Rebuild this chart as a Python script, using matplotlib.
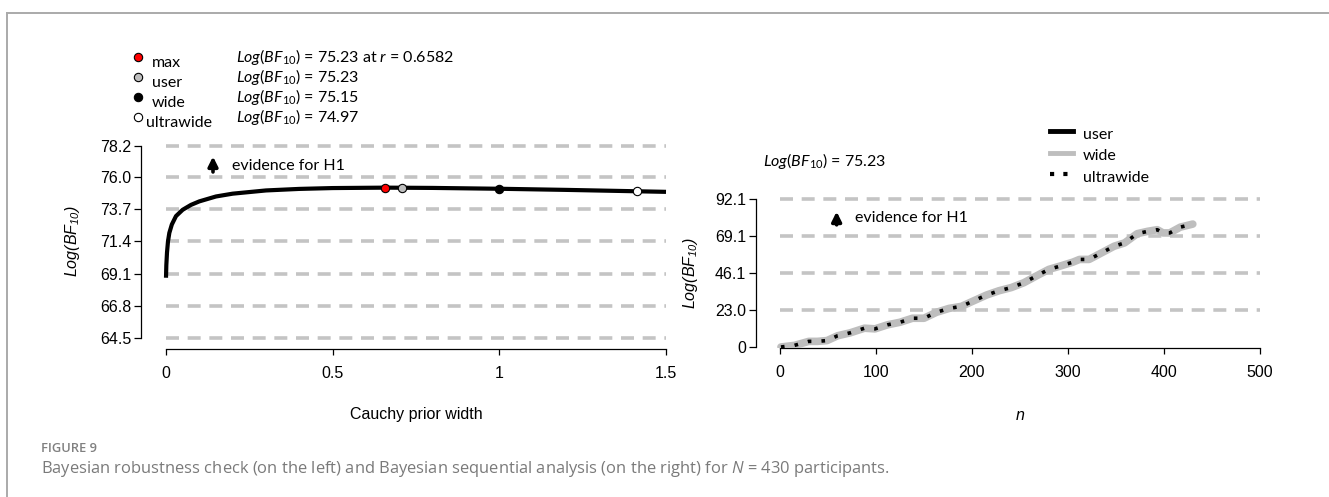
import matplotlib
matplotlib.use("Agg")
import matplotlib.pyplot as plt
from matplotlib.lines import Line2D

# ---- data ----
# robustness check (left)
cauchy_r = [0.0, 0.001, 0.003, 0.006, 0.01, 0.0175, 0.03, 0.05, 0.075, 0.1, 0.15,
            0.2, 0.3, 0.4, 0.5, 0.6582, 0.8, 1.0, 1.2, 1.414, 1.5]
robust_bf = [68.8, 69.7, 70.6, 71.4, 72.0, 72.6, 73.2, 73.65, 74.0, 74.25, 74.6,
             74.8, 75.03, 75.14, 75.2, 75.23, 75.21, 75.15, 75.07, 74.97, 74.93]
left_yticks = [64.5, 66.8, 69.1, 71.4, 73.7, 76.0, 78.2]
left_xticks = [0, 0.5, 1, 1.5]
left_xlabels = ["0", "0.5", "1", "1.5"]

prior_names = ["max", "user", "wide", "ultrawide"]
prior_r = [0.6582, 0.7071, 1.0, 1.414]
prior_bf = [75.23, 75.23, 75.15, 74.97]
prior_colors = ["#FF0000", "#BEBEBE", "#000000", "#FFFFFF"]
prior_text = [r"$\mathit{Log(BF_{10})}$ = 75.23 at $\mathit{r}$ = 0.6582",
              r"$\mathit{Log(BF_{10})}$ = 75.23",
              r"$\mathit{Log(BF_{10})}$ = 75.15",
              r"$\mathit{Log(BF_{10})}$ = 74.97"]

# sequential analysis (right)
seq_n = [1, 15, 30, 39, 49, 60, 73, 88, 99, 112, 125, 138, 150, 163, 176, 189,
         202, 215, 228, 241, 254, 267, 280, 292, 305, 312, 322, 335, 348, 359,
         372, 383, 393, 399, 406, 417, 430]
seq_bf = [0, 1, 3.5, 3.5, 4, 7, 8.8, 11.7, 11.3, 13.8, 15.4, 17.9, 17.9, 21.6,
          24, 25.3, 28.8, 32.3, 35, 37, 40, 44.2, 48.3, 50.4, 52.8, 54.5, 54.5,
          58.6, 62.7, 64.8, 70.5, 72, 73, 71, 71, 74.6, 76.5]
right_yticks = [0, 23.0, 46.1, 69.1, 92.1]
right_ylabels = ["0", "23.0", "46.1", "69.1", "92.1"]
right_xticks = [0, 100, 200, 300, 400, 500]

W, H = 1329, 497

plt.rcParams['mathtext.fontset'] = 'custom'
plt.rcParams['mathtext.rm'] = 'Lato'
plt.rcParams['mathtext.it'] = 'Lato:italic'
plt.rcParams['mathtext.sf'] = 'Liberation Sans:italic'
plt.rcParams['mathtext.cal'] = 'Open Sans:italic'

AXFONT = 'Liberation Sans'
TXTFONT = 'Lato'
DASH = dict(color='#C4C4C4', lw=2.6, ls=(0, (3.6, 2.4)), dash_capstyle='butt', zorder=1)
ARROW = dict(arrowstyle='-|>', lw=2.6, color='black', mutation_scale=14)


def fx(x):
    return x / W


def fy(y):
    return 1 - y / H


def style_axes(ax):
    for s in ['top', 'right']:
        ax.spines[s].set_visible(False)
    for s in ['left', 'bottom']:
        ax.spines[s].set_linewidth(0.9)
    ax.tick_params(axis='both', labelsize=11.5, width=0.9, direction='out')
    ax.tick_params(axis='y', length=5, pad=2)
    ax.tick_params(axis='x', length=4, pad=8)
    for lab in ax.get_xticklabels() + ax.get_yticklabels():
        lab.set_family(AXFONT)


fig = plt.figure(figsize=(W / 100, H / 100), dpi=100)

# frame around the figure
fig.add_artist(Line2D([fx(7), fx(W)], [fy(12.5), fy(12.5)], color='#AAAAAA', lw=1.4))
fig.add_artist(Line2D([fx(7), fx(7)], [fy(12.5), fy(H)], color='#AAAAAA', lw=1.4))

# ---- left panel ----
ax1 = fig.add_axes([fx(141), fy(349), fx(668 - 141), (349 - 140) / H])
ax1.set_xlim(-0.075, 1.506)
ax1.set_ylim(63.715, 78.63)
for yv in left_yticks:
    ax1.plot([0, 1.5], [yv, yv], **DASH)
ax1.plot(cauchy_r, robust_bf, color='black', lw=3, solid_capstyle='butt', zorder=3)
for r, b, c in zip(prior_r, prior_bf, prior_colors):
    ax1.plot([r], [b], marker='o', ms=6, mfc=c, mec='black', mew=0.8, zorder=4)
ax1.set_yticks(left_yticks)
ax1.set_yticklabels([f"{v:.1f}" for v in left_yticks])
ax1.set_xticks(left_xticks)
ax1.set_xticklabels(left_xlabels)
ax1.spines['left'].set_bounds(left_yticks[0], left_yticks[-1])
ax1.spines['bottom'].set_bounds(0, 1.5)
style_axes(ax1)
ax1.annotate('', xy=(0.141, 77.65), xytext=(0.141, 76.15), arrowprops=ARROW)
ax1.text(0.198, 76.75, 'evidence for H1', family=TXTFONT, fontsize=11.5, va='center')

fig.text(fx(72), fy(241), r'$\mathsf{Log(BF_{10})}$', rotation=90, fontsize=11.5,
         ha='center', va='center')
fig.text(fx(416), fy(415), 'Cauchy prior width', family=AXFONT, fontsize=11.5,
         ha='center', va='center')

# left legend
label_x = [152, 152, 152, 146]
for i, (name, c, txt) in enumerate(zip(prior_names, prior_colors, prior_text)):
    y = 57 + 20 * i
    fig.add_artist(Line2D([fx(138)], [fy(y)], marker='o', ms=6, mfc=c, mec='black', mew=0.8))
    fig.text(fx(label_x[i]), fy(y + 6), name, family=TXTFONT, fontsize=11.5, va='center')
    fig.text(fx(236), fy(y), txt, family=TXTFONT, fontsize=11.5, va='center')

# ---- right panel ----
ax2 = fig.add_axes([fx(756), fy(348), fx(1262 - 756), (348 - 195) / H])
ax2.set_xlim(-25, 502.1)
ax2.set_ylim(-0.62, 94.6)
for yv in right_yticks[1:]:
    ax2.plot([0, 500], [yv, yv], **DASH)
ax2.plot(seq_n, seq_bf, color='black', lw=3, zorder=2)
ax2.plot(seq_n, seq_bf, color='#BEBEBE', lw=5.5, zorder=3, solid_capstyle='round')
ax2.plot(seq_n, seq_bf, color='black', lw=2.6, ls=(0, (1, 2.8)), zorder=4,
         dash_capstyle='butt')
ax2.set_yticks(right_yticks)
ax2.set_yticklabels(right_ylabels)
ax2.set_xticks(right_xticks)
ax2.spines['left'].set_bounds(0, 92.1)
ax2.spines['bottom'].set_bounds(0, 500)
style_axes(ax2)
ax2.annotate('', xy=(59, 86), xytext=(59, 74.3), arrowprops=ARROW)
ax2.text(78, 80.3, 'evidence for H1', family=TXTFONT, fontsize=11.5, va='center')

fig.text(fx(690), fy(273), r'$\mathsf{Log(BF_{10})}$', rotation=90, fontsize=11.5,
         ha='center', va='center')
fig.text(fx(1020), fy(415), 'n', family=AXFONT, style='italic', fontsize=11.5,
         ha='center', va='center')
fig.text(fx(763), fy(161), r'$\mathit{Log(BF_{10})}$ = 75.23', family=TXTFONT,
         fontsize=11.5, va='center')

# right legend
leg_styles = [dict(color='black', lw=3.5),
              dict(color='#BEBEBE', lw=3.5),
              dict(color='black', lw=3, ls=(0, (1, 2.2)), dash_capstyle='butt')]
for i, (name, st) in enumerate(zip(["user", "wide", "ultrawide"], leg_styles)):
    y = 131 + 21.5 * i
    fig.add_artist(Line2D([fx(1050), fx(1073)], [fy(y), fy(y)], **st))
    fig.text(fx(1083), fy(y + 4), name, family=TXTFONT, fontsize=11.5, va='center')

# caption
fig.text(fx(41), fy(448), 'FIGURE 9', family='Open Sans', weight='semibold',
         fontsize=9.3, color='#808080', va='center')
fig.text(fx(41), fy(469),
         r'Bayesian robustness check (on the left) and Bayesian sequential analysis '
         r'(on the right) for $\mathcal{N}$ = 430 participants.',
         family='Open Sans', fontsize=11.9, color='#7A7A7A', va='center')

fig.savefig('out.png', dpi=100)
